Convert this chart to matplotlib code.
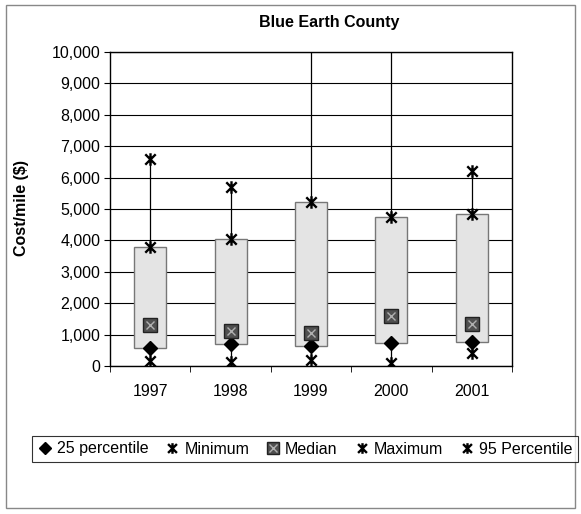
import numpy as np
import matplotlib.pyplot as plt
from matplotlib.path import Path
from matplotlib.patches import Rectangle
from matplotlib.ticker import StrMethodFormatter

# cost per mile by year
years = ['1997', '1998', '1999', '2000', '2001']
p25 = [560, 700, 630, 720, 780]
minimum = [150, 120, 180, 100, 400]
median = [1300, 1100, 1050, 1600, 1350]
maximum = [6600, 5700, 10800, 10800, 6200]   # 1999 and 2000 run off the top
p95 = [3800, 4050, 5230, 4750, 4850]

plt.rcParams['font.family'] = ['Liberation Sans', 'DejaVu Sans']
plt.rcParams['font.size'] = 11.5

fig = plt.figure(figsize=(5.81, 5.14), dpi=100)
ax = fig.add_axes([110/581, 1-366/514, 402/581, 314/514])
x = np.arange(len(years))

# star marker: an X with a vertical stroke through it
M, L = Path.MOVETO, Path.LINETO
star = Path([(-1, -1), (1, 1), (-1, 1), (1, -1), (0, -1.2), (0, 1.2)],
            [M, L, M, L, M, L])

# high-low line, then the 25th-95th box on top
ax.vlines(x, minimum, maximum, color='black', lw=0.9, zorder=2)
ax.bar(x, np.array(p95) - np.array(p25), bottom=p25, width=0.4,
       color='#e4e4e4', edgecolor='#777777', lw=1, zorder=3)

h1, = ax.plot(x, p25, ls='none', marker='D', ms=7, color='black', zorder=5)
h2, = ax.plot(x, minimum, ls='none', marker=star, ms=9, mew=1.7, color='black', zorder=5)
h3a, = ax.plot(x, median, ls='none', marker='s', ms=10, mfc='#505050', mec='#222222', zorder=5)
h3b, = ax.plot(x, median, ls='none', marker='x', ms=6, mec='#b0b0b0', mew=1, zorder=6)
h4, = ax.plot(x, maximum, ls='none', marker=star, ms=9, mew=1.7, color='black', zorder=5)
h5, = ax.plot(x, p95, ls='none', marker=star, ms=9, mew=1.7, color='black', zorder=5)

ax.set_ylim(0, 10000)
ax.set_xlim(-0.5, 4.5)
ax.set_yticks(range(0, 10001, 1000))
ax.yaxis.set_major_formatter(StrMethodFormatter('{x:,.0f}'))
ax.yaxis.grid(True, color='black', lw=0.8)
ax.set_axisbelow(True)
ax.tick_params(axis='y', length=4, pad=3, colors='black')

ax.set_xticks(x)
ax.set_xticklabels(years)
ax.tick_params(axis='x', which='major', length=0, pad=13)
ax.set_xticks(np.arange(-0.5, 5, 1), minor=True)
ax.tick_params(axis='x', which='minor', length=4, direction='out')
for s in ax.spines.values():
    s.set_color('black')
    s.set_linewidth(1)

fig.text(329/581, 1-22/514, 'Blue Earth County', ha='center', va='center',
         weight='bold')
fig.text(22/581, 1-208/514, 'Cost/mile ($)', ha='center', va='center',
         rotation=90, weight='bold')

leg = fig.legend([h1, h2, (h3a, h3b), h4, h5],
                 ['25 percentile', 'Minimum', 'Median', 'Maximum', '95 Percentile'],
                 ncol=5, loc='center', bbox_to_anchor=(305/581, 1-449/514),
                 frameon=True, fancybox=False, edgecolor='black',
                 handlelength=0.9, handletextpad=0.3, columnspacing=1.05,
                 borderpad=0.35, fontsize=11.5, markerscale=0.85)
leg.get_frame().set_linewidth(0.8)

fig.patches.append(Rectangle((6/581, 6/514), 569/581, 503/514,
                             transform=fig.transFigure, fill=False,
                             ec='#888888', lw=1))

fig.savefig('out.png', dpi=100)
